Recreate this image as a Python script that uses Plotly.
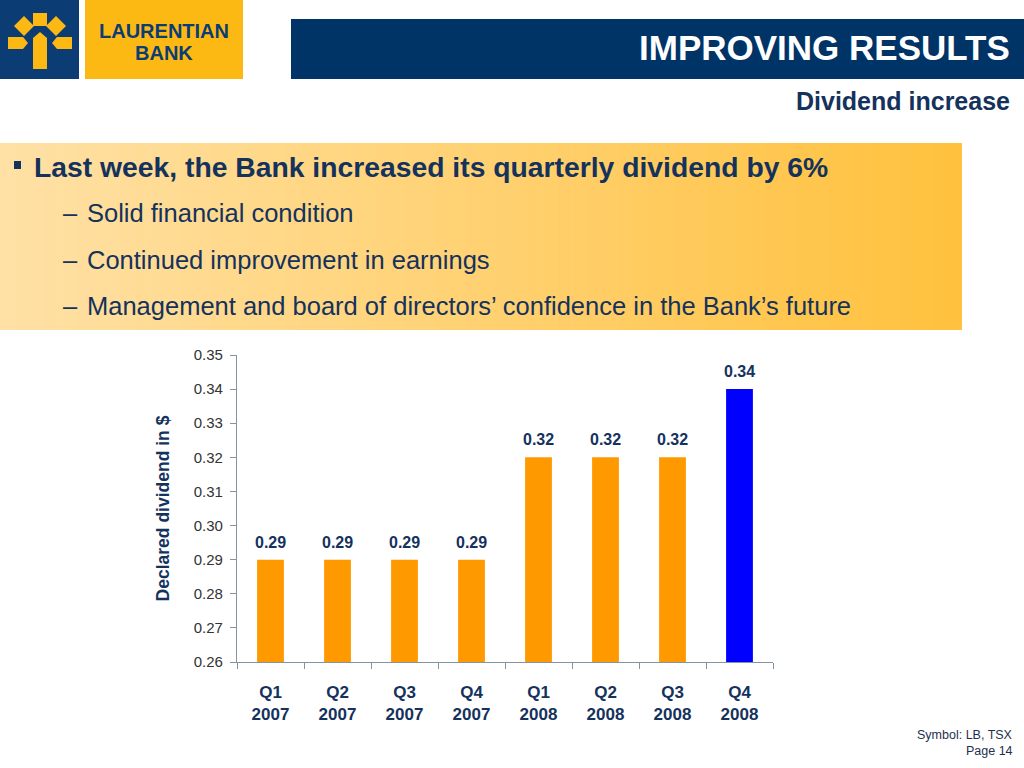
import plotly.graph_objects as go

# ---------------- data ----------------
quarters = ["Q1", "Q2", "Q3", "Q4", "Q1", "Q2", "Q3", "Q4"]
years = ["2007", "2007", "2007", "2007", "2008", "2008", "2008", "2008"]
dividends = [0.29, 0.29, 0.29, 0.29, 0.32, 0.32, 0.32, 0.34]
highlight = [False, False, False, False, False, False, False, True]
y_ticks = [0.26, 0.27, 0.28, 0.29, 0.30, 0.31, 0.32, 0.33, 0.34, 0.35]

title_text = "IMPROVING RESULTS"
subtitle_text = "Dividend increase"
main_bullet = "Last week, the Bank increased its quarterly dividend by 6%"
sub_bullets = [
    "Solid financial condition",
    "Continued improvement in earnings",
    "Management and board of directors\u2019 confidence in the Bank\u2019s future",
]
footer_lines = ["Symbol: LB, TSX", "Page 14"]

categories = [f"{q}<br>{y}" for q, y in zip(quarters, years)]

# ---------------- styling ----------------
W, H = 1024, 768
L, R, T, B = 237, 773, 355, 662
NAVY = "#14325C"
BAR_ORANGE = "#FF9900"
BAR_BLUE = "#0000FF"
HEADER_BLUE = "#003366"
LOGO_BLUE = "#0B3C73"
LOGO_YELLOW = "#FDB913"
AXIS_COL = "#8394A6"
FONT = "Liberation Sans, Arial, sans-serif"


def px(x):
    return (x - L) / (R - L)


def py(y):
    return (B - y) / (B - T)


def hex_to_rgb(h):
    h = h.lstrip("#")
    return tuple(int(h[i:i + 2], 16) for i in (0, 2, 4))


fig = go.Figure()
fig.add_trace(go.Bar(
    x=categories,
    y=dividends,
    marker=dict(color=[BAR_BLUE if h else BAR_ORANGE for h in highlight], line=dict(width=0)),
    width=0.4,
    hoverinfo="skip",
))

shapes = []
annotations = []

# value labels above bars
for c, v in zip(categories, dividends):
    annotations.append(dict(
        x=c, y=v, xref="x", yref="y", text=f"<b>{v:.2f}</b>", showarrow=False,
        yanchor="bottom", yshift=7, font=dict(family=FONT, size=16, color=NAVY),
    ))

# ---- logo ----
shapes.append(dict(type="rect", xref="paper", yref="paper", x0=px(0), x1=px(79), y0=py(79), y1=py(0),
                   fillcolor=LOGO_BLUE, line=dict(width=0), layer="below"))
shapes.append(dict(type="rect", xref="paper", yref="paper", x0=px(85), x1=px(243), y0=py(79), y1=py(0),
                   fillcolor=LOGO_YELLOW, line=dict(width=0), layer="below"))


def poly(points):
    d = "M " + " L ".join(f"{px(a):.5f},{py(b):.5f}" for a, b in points) + " Z"
    return dict(type="path", xref="paper", yref="paper", path=d,
                fillcolor=LOGO_YELLOW, line=dict(width=0), layer="below")


cx = 40
shapes.append(poly([(cx - 7, 13), (cx + 7, 13), (cx + 7, 26), (cx - 7, 26)]))  # top square
shapes.append(poly([(cx - 7, 69), (cx - 7, 38), (cx, 32), (cx + 7, 38), (cx + 7, 69)]))  # centre bar
for s in (-1, 1):
    dx = cx + s * 16
    shapes.append(poly([(dx, 16), (dx + 10, 26), (dx, 36), (dx - 10, 26)]))  # diamond
    shapes.append(poly([(cx + s * 32, 37), (cx + s * 17, 37), (cx + s * 12, 43),
                        (cx + s * 17, 49), (cx + s * 32, 49)]))  # side pentagon

annotations.append(dict(x=px(164), y=py(31), xref="paper", yref="paper", text="<b>LAURENTIAN</b>",
                        showarrow=False, xanchor="center", yanchor="middle",
                        font=dict(family=FONT, size=20, color=LOGO_BLUE)))
annotations.append(dict(x=px(164), y=py(53), xref="paper", yref="paper", text="<b>BANK</b>",
                        showarrow=False, xanchor="center", yanchor="middle",
                        font=dict(family=FONT, size=20, color=LOGO_BLUE)))

# ---- header bar ----
shapes.append(dict(type="rect", xref="paper", yref="paper", x0=px(291), x1=px(1024), y0=py(79), y1=py(19),
                   fillcolor=HEADER_BLUE, line=dict(width=0), layer="below"))
annotations.append(dict(x=px(1012), y=py(47), xref="paper", yref="paper", text=f"<b>{title_text}</b>",
                        showarrow=False, xanchor="right", yanchor="middle",
                        font=dict(family=FONT, size=35, color="white")))
annotations.append(dict(x=px(1012), y=py(101), xref="paper", yref="paper", text=f"<b>{subtitle_text}</b>",
                        showarrow=False, xanchor="right", yanchor="middle",
                        font=dict(family=FONT, size=25, color=NAVY)))

# ---- gradient box ----
c0 = hex_to_rgb("#FFE1A5")
c1 = hex_to_rgb("#FFC13E")
n = 64
bx0, bx1, by0, by1 = 0, 962, 143, 330
for i in range(n):
    t = i / (n - 1)
    col = tuple(round(c0[k] + (c1[k] - c0[k]) * t) for k in range(3))
    xa = bx0 + (bx1 - bx0) * i / n
    xb = bx0 + (bx1 - bx0) * (i + 1) / n + 0.6
    shapes.append(dict(type="rect", xref="paper", yref="paper", x0=px(xa), x1=px(min(xb, bx1)),
                       y0=py(by1), y1=py(by0), fillcolor="rgb(%d,%d,%d)" % col,
                       line=dict(width=0), layer="below"))

# bullet square
shapes.append(dict(type="rect", xref="paper", yref="paper", x0=px(14), x1=px(21), y0=py(169), y1=py(161),
                   fillcolor=NAVY, line=dict(width=0), layer="below"))
annotations.append(dict(x=px(32), y=py(167), xref="paper", yref="paper", text=f"<b>{main_bullet}</b>",
                        showarrow=False, xanchor="left", yanchor="middle",
                        font=dict(family=FONT, size=28.3, color=NAVY)))
for i, txt in enumerate(sub_bullets):
    yy = [213, 260, 306][i]
    annotations.append(dict(x=px(61), y=py(yy), xref="paper", yref="paper", text="\u2013",
                            showarrow=False, xanchor="left", yanchor="middle",
                            font=dict(family=FONT, size=25.5, color=NAVY)))
    annotations.append(dict(x=px(85), y=py(yy), xref="paper", yref="paper", text=txt,
                            showarrow=False, xanchor="left", yanchor="middle",
                            font=dict(family=FONT, size=25.5, color=NAVY)))

# ---- footer ----
for i, txt in enumerate(footer_lines):
    annotations.append(dict(x=px(1015), y=py([735, 751][i]), xref="paper", yref="paper", text=txt,
                            showarrow=False, xanchor="right", yanchor="middle",
                            font=dict(family=FONT, size=12.5, color="#1E2F4D")))

fig.update_layout(
    width=W, height=H,
    margin=dict(l=L, r=W - R, t=T, b=H - B, pad=0),
    paper_bgcolor="white",
    plot_bgcolor="rgba(0,0,0,0)",
    showlegend=False,
    shapes=shapes,
    annotations=annotations,
    bargap=0.6,
    xaxis=dict(
        showline=True, linecolor=AXIS_COL, linewidth=1.2,
        ticks="outside", tickson="boundaries", ticklen=6, tickcolor=AXIS_COL, tickwidth=1.2,
        tickfont=dict(family=FONT, size=17, color=NAVY),
        ticklabelstandoff=14,
        showgrid=False, zeroline=False, fixedrange=True,
        tickprefix="<b>", ticksuffix="</b>",
    ),
    yaxis=dict(
        range=[0.26, 0.35],
        tickvals=y_ticks, tickformat=".2f",
        showline=True, linecolor=AXIS_COL, linewidth=1.2,
        ticks="outside", ticklen=6, tickcolor=AXIS_COL, tickwidth=1.2,
        tickfont=dict(family=FONT, size=15, color="#333333"),
        ticklabelstandoff=4,
        showgrid=False, zeroline=False, fixedrange=True,
        title=dict(text="<b>Declared dividend in $</b>", standoff=19,
                   font=dict(family=FONT, size=17.5, color=NAVY)),
    ),
)

fig.write_html(
    "out.html",
    config={"displayModeBar": False},
    post_script="document.body.style.margin='0px';document.body.style.overflow='hidden';",
)
